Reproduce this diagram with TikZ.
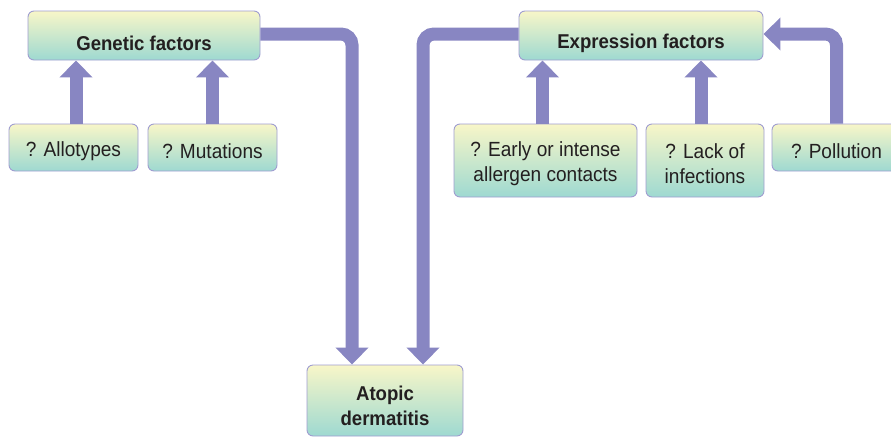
\documentclass[tikz,border=0pt]{standalone}
\usepackage{fontspec}
\setmainfont{Liberation Sans}[FakeStretch=0.93]
\usetikzlibrary{arrows.meta}
\definecolor{flow}{HTML}{8886C2}
\definecolor{boxline}{HTML}{9F9DD0}
\definecolor{boxtop}{HTML}{F8F6C8}
\definecolor{boxbot}{HTML}{9ED9D1}
\definecolor{ink}{HTML}{231F20}
\tikzset{
  factorbox/.style={draw=boxline, line width=0.9pt, rounded corners=6pt,
    top color=boxtop, bottom color=boxbot, inner sep=0pt},
  factortext/.style={text=ink, align=center, inner sep=0pt, yshift=-3.5pt,
    font=\fontsize{20.5}{25}\selectfont},
  headtext/.style={factortext, yshift=-4pt,
    font=\fontsize{20}{25}\selectfont\bfseries},
  flowarrow/.style={draw=flow, line width=13pt,
    -{Triangle[width=32pt,length=17pt]}},
  flowline/.style={flowarrow, rounded corners=11pt}
}
\begin{document}
\begin{tikzpicture}[x=1pt,y=-1pt]
\useasboundingbox (0,0) rectangle (891,437);

% factor boxes, each text set as a centred label
\node[factorbox, minimum width=232pt, minimum height=49pt,
  label={[headtext]center:Genetic factors}] (gen) at (144,35.5) {};
\node[factorbox, minimum width=129pt, minimum height=47pt,
  label={[factortext]center:? Allotypes}] (allo) at (73.5,147.5) {};
\node[factorbox, minimum width=129pt, minimum height=47pt,
  label={[factortext]center:? Mutations}] (mut) at (212.5,147.5) {};
\node[factorbox, minimum width=244pt, minimum height=49pt,
  label={[headtext]center:Expression factors}] (expr) at (641,35.5) {};
\node[factorbox, minimum width=183pt, minimum height=73pt,
  label={[factortext]center:? Early or intense\\allergen contacts}] (early) at (545.5,160.5) {};
\node[factorbox, minimum width=118pt, minimum height=73pt,
  label={[factortext]center:? Lack of\\infections}] (lack) at (705,160.5) {};
\node[factorbox, minimum width=129pt, minimum height=47pt,
  label={[factortext]center:? Pollution}] (poll) at (836.5,147.5) {};
\node[factorbox, minimum width=156pt, minimum height=71pt,
  label={[headtext, yshift=2.5pt]center:Atopic\\dermatitis}] (atopic) at (385,400.5) {};

% contributing factors
\draw[flowarrow] ([xshift=2.5pt]allo.north) -- ([xshift=2.5pt]allo.north |- gen.south);
\draw[flowarrow] (mut.north) -- (mut.north |- gen.south);
\draw[flowarrow] ([xshift=-3pt]early.north) -- ([xshift=-3pt]early.north |- expr.south);
\draw[flowarrow] ([xshift=-4pt]lack.north) -- ([xshift=-4pt]lack.north |- expr.south);
\draw[flowline] (poll.north) -- ([yshift=1.5pt]poll.north |- expr.east) -- ([yshift=1.5pt]expr.east);

% paths to the outcome
\coordinate (gturn) at ([yshift=1.5pt]gen.east -| 352,0);
\coordinate (eturn) at ([yshift=1.5pt]expr.west -| 423,0);
\draw[flowline] ([yshift=1.5pt]gen.east) -- (gturn) -- (gturn |- atopic.north);
\draw[flowline] ([yshift=1.5pt]expr.west) -- (eturn) -- (eturn |- atopic.north);
\end{tikzpicture}
\end{document}
